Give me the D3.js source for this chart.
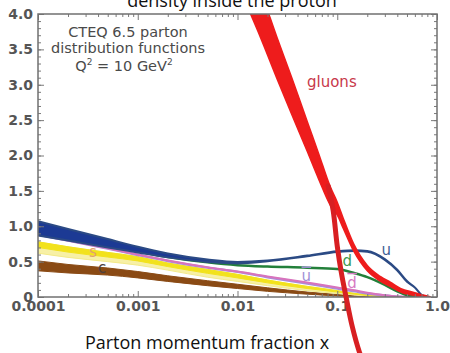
<!DOCTYPE html>
<html>
<head>
<meta charset="utf-8">
<script src="https://cdn.jsdelivr.net/npm/d3@7"></script>
<style>
body { margin: 0; background: #fff; }
svg { display: block; }
.tick line { stroke: #7a7a7a; stroke-width: 1; }
.tick text { font-family: "DejaVu Sans", sans-serif; font-weight: bold; font-size: 14px; fill: #555; }
.note { font-family: "DejaVu Sans", sans-serif; font-size: 14.5px; fill: #4a4a4a; }
.lbl { font-family: "DejaVu Sans", sans-serif; font-size: 15px; }
.big { font-family: "Open Sans", sans-serif; font-size: 18px; fill: #111; }
</style>
</head>
<body>
<svg width="450" height="353"></svg>
<script>
// momentum fraction grid for the quark curves
var xq = [0.0001, 0.0002, 0.0005, 0.001, 0.002, 0.005, 0.01, 0.02, 0.05, 0.1, 0.15, 0.2, 0.3, 0.4, 0.5, 0.6, 0.7, 0.8];

var uLo  = [0.87, 0.80, 0.70, 0.63, 0.56, 0.495, 0.475, 0.505, 0.575, 0.635, 0.65, 0.64, 0.525, 0.375, 0.215, 0.135, 0.03, 0];
var uHi  = [1.07, 0.96, 0.82, 0.71, 0.615, 0.53, 0.495, 0.515, 0.585, 0.645, 0.66, 0.65, 0.535, 0.385, 0.225, 0.135, 0.03, 0];
var dVal = [0.92, 0.84, 0.73, 0.645, 0.565, 0.49, 0.45, 0.43, 0.415, 0.395, 0.335, 0.28, 0.17, 0.08, 0.025, 0.005, 0, 0];
var ubarVal = [0.88, 0.80, 0.685, 0.595, 0.51, 0.415, 0.355, 0.28, 0.19, 0.12, 0.08, 0.05, 0.02, 0.005, 0, 0, 0, 0];
var dbarVal = [0.88, 0.80, 0.69, 0.60, 0.515, 0.42, 0.36, 0.29, 0.205, 0.135, 0.095, 0.06, 0.025, 0.008, 0, 0, 0, 0];
var sLo  = [0.62, 0.56, 0.50, 0.45, 0.38, 0.28, 0.22, 0.16, 0.09, 0.05, 0.03, 0.015, 0, 0, 0, 0, 0, 0];
var sHi  = [0.78, 0.71, 0.63, 0.57, 0.48, 0.39, 0.32, 0.24, 0.15, 0.09, 0.05, 0.03, 0.01, 0, 0, 0, 0, 0];
var cLo  = [0.37, 0.34, 0.31, 0.27, 0.22, 0.16, 0.12, 0.08, 0.04, 0.015, 0.005, 0, 0, 0, 0, 0, 0, 0];
var cHi  = [0.51, 0.46, 0.41, 0.36, 0.30, 0.23, 0.18, 0.13, 0.07, 0.035, 0.015, 0.005, 0, 0, 0, 0, 0, 0];

// gluon band
var gx  = [0.012, 0.017, 0.025, 0.035, 0.05, 0.065, 0.085, 0.1, 0.115, 0.146, 0.2, 0.27, 0.34, 0.45, 0.53, 0.65, 0.76, 0.85];
var gLo = [4.17, 3.67, 3.08, 2.58, 2.06, 1.67, 1.30, 1.16, 0.97, 0.65, 0.37, 0.225, 0.15, 0.06, 0.035, 0.01, 0, 0];
var gHi = [4.87, 4.33, 3.66, 3.10, 2.48, 2.03, 1.56, 1.34, 1.11, 0.75, 0.445, 0.29, 0.21, 0.11, 0.08, 0.045, 0.02, 0.005];

// red hand-drawn stroke over the figure
var markX = [0.081, 0.091, 0.1, 0.11, 0.123, 0.141, 0.166, 0.178];
var markY = [1.57, 1.22, 0.72, 0.34, -0.01, -0.41, -0.77, -0.88];

var xTicks = [0.0001, 0.001, 0.01, 0.1, 1];
var xTickLabels = ["0.0001", "0.001", "0.01", "0.1", "1.0"];
var yTicks = [0, 0.5, 1, 1.5, 2, 2.5, 3, 3.5, 4];
var yTickLabels = ["0", "0.5", "1.0", "1.5", "2.0", "2.5", "3.0", "3.5", "4.0"];

var svg = d3.select("svg");
var pL = 38, pR = 437, pT = 14, pB = 297;

var x = d3.scaleLog().domain([1e-4, 1]).range([pL, pR]);
var y = d3.scaleLinear().domain([0, 4]).range([pB, pT]);

svg.append("clipPath").attr("id", "plot")
  .append("rect").attr("x", pL).attr("y", pT).attr("width", pR - pL).attr("height", pB - pT);

var plot = svg.append("g").attr("clip-path", "url(#plot)");

function band(xs, lo, hi) {
  return xs.map(function(d, i) { return { x: d, lo: lo[i], hi: hi[i] }; });
}
function pts(xs, ys) {
  return xs.map(function(d, i) { return { x: d, v: ys[i] }; });
}

var area = d3.area()
    .x(function(d) { return x(d.x); })
    .y0(function(d) { return y(d.lo); })
    .y1(function(d) { return y(d.hi); })
    .curve(d3.curveMonotoneX);

var line = d3.line()
    .x(function(d) { return x(d.x); })
    .y(function(d) { return y(d.v); })
    .curve(d3.curveMonotoneX);

// charm
plot.append("path").datum(band(xq, cLo, cHi))
    .attr("d", area).attr("fill", "#8a4a14").attr("stroke", "#8a4a14").attr("stroke-width", 1);

// strange: pale lower half, bright upper half
plot.append("path").datum(band(xq, sLo, sHi))
    .attr("d", area).attr("fill", "#f7f0a6").attr("stroke", "#f3ea8a").attr("stroke-width", 1);
plot.append("path").datum(band(xq, sLo.map(function(d, i) { return (d + sHi[i]) / 2; }), sHi))
    .attr("d", area).attr("fill", "#f2e21c").attr("stroke", "#f2e21c").attr("stroke-width", 1);

// anti-quarks
plot.append("path").datum(pts(xq, ubarVal))
    .attr("d", line).attr("fill", "none").attr("stroke", "#a98ed8").attr("stroke-width", 2.5);
plot.append("path").datum(pts(xq, dbarVal))
    .attr("d", line).attr("fill", "none").attr("stroke", "#d873bd").attr("stroke-width", 2);

// d quark
plot.append("path").datum(pts(xq, dVal))
    .attr("d", line).attr("fill", "none").attr("stroke", "#23803a").attr("stroke-width", 2.5);

// u quark
plot.append("path").datum(band(xq, uLo, uHi))
    .attr("d", area).attr("fill", "#1c3a94").attr("stroke", "#2b4a84").attr("stroke-width", 2);

// gluons
plot.append("path").datum(band(gx, gLo, gHi))
    .attr("d", area).attr("fill", "#ee1c1c").attr("stroke", "#ee1c1c").attr("stroke-width", 1.5);

// axes with inward ticks on all four sides
var xMinor = [];
[1e-4, 1e-3, 1e-2, 1e-1].forEach(function(dec) {
  for (var k = 2; k <= 9; k++) xMinor.push(k * dec);
});
var yMinor = d3.range(0, 41).map(function(i) { return i / 10; });

function styleAxis(g) { g.select(".domain").remove(); }

svg.append("g").attr("transform", "translate(0," + pB + ")")
    .call(d3.axisBottom(x).tickValues(xMinor).tickSize(-3).tickFormat("")).call(styleAxis);
svg.append("g").attr("transform", "translate(0," + pB + ")")
    .call(d3.axisBottom(x).tickValues(xTicks).tickSize(-6).tickPadding(4)
      .tickFormat(function(d, i) { return xTickLabels[i]; })).call(styleAxis);
svg.append("g").attr("transform", "translate(0," + pT + ")")
    .call(d3.axisTop(x).tickValues(xMinor).tickSize(-3).tickFormat("")).call(styleAxis);
svg.append("g").attr("transform", "translate(0," + pT + ")")
    .call(d3.axisTop(x).tickValues(xTicks).tickSize(-6).tickFormat("")).call(styleAxis);

svg.append("g").attr("transform", "translate(" + pL + ",0)")
    .call(d3.axisLeft(y).tickValues(yMinor).tickSize(-3).tickFormat("")).call(styleAxis);
svg.append("g").attr("transform", "translate(" + pL + ",0)")
    .call(d3.axisLeft(y).tickValues(yTicks).tickSize(-6).tickPadding(5)
      .tickFormat(function(d, i) { return yTickLabels[i]; })).call(styleAxis);
svg.append("g").attr("transform", "translate(" + pR + ",0)")
    .call(d3.axisRight(y).tickValues(yMinor).tickSize(-3).tickFormat("")).call(styleAxis);
svg.append("g").attr("transform", "translate(" + pR + ",0)")
    .call(d3.axisRight(y).tickValues(yTicks).tickSize(-6).tickFormat("")).call(styleAxis);

svg.append("rect")
    .attr("x", pL).attr("y", pT).attr("width", pR - pL).attr("height", pB - pT)
    .attr("fill", "none").attr("stroke", "#707070").attr("stroke-width", 1.5);

// annotation in the corner
var note = svg.append("g").attr("class", "note").attr("text-anchor", "middle");
note.append("text").attr("x", 128).attr("y", 37).text("CTEQ 6.5 parton");
note.append("text").attr("x", 128).attr("y", 53).text("distribution functions");
var q = note.append("text").attr("x", 124).attr("y", 71);
q.append("tspan").text("Q");
q.append("tspan").attr("dy", -6).attr("font-size", 9).text("2");
q.append("tspan").attr("dy", 6).text(" = 10 GeV");
q.append("tspan").attr("dy", -6).attr("font-size", 9).text("2");

// curve labels
svg.append("text").attr("class", "lbl").attr("x", 307).attr("y", 87)
    .attr("fill", "#c8384a").text("gluons");
svg.append("text").attr("class", "lbl").attr("text-anchor", "middle")
    .attr("x", x(0.31)).attr("y", y(0.60)).attr("fill", "#3f5f95").text("u");
svg.append("text").attr("class", "lbl").attr("text-anchor", "middle")
    .attr("x", x(0.126)).attr("y", y(0.44)).attr("fill", "#3f9a4f").text("d");
svg.append("text").attr("class", "lbl").attr("text-anchor", "middle")
    .attr("x", x(0.049)).attr("y", y(0.22)).attr("fill", "#9f90d6")
    .style("text-decoration", "overline").text("u");
svg.append("text").attr("class", "lbl").attr("text-anchor", "middle")
    .attr("x", x(0.141)).attr("y", y(0.13)).attr("fill", "#d77ac4")
    .style("text-decoration", "overline").text("d");
svg.append("text").attr("class", "lbl").attr("text-anchor", "middle")
    .attr("x", x(0.000355)).attr("y", y(0.57)).attr("fill", "#e2a070").text("s");
svg.append("text").attr("class", "lbl").attr("text-anchor", "middle")
    .attr("x", x(0.00044)).attr("y", y(0.34)).attr("fill", "#4a4040").text("c");

// slide title (cut at top) and axis title
svg.append("text").attr("class", "big").attr("text-anchor", "middle")
    .attr("x", 232).attr("y", 7).text("density inside the proton");
svg.append("text").attr("class", "big").attr("text-anchor", "middle")
    .attr("x", 207).attr("y", 349).text("Parton momentum fraction x");

// red marker line drawn over everything
svg.append("path").datum(pts(markX, markY))
    .attr("d", line.curve(d3.curveCatmullRom)).attr("fill", "none")
    .attr("stroke", "#d81f22").attr("stroke-width", 5).attr("stroke-linecap", "round");
</script>
</body>
</html>
